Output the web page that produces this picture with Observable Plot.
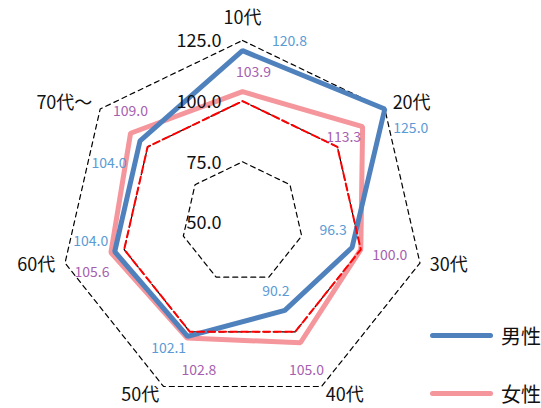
<!DOCTYPE html>
<html>
<head>
<meta charset="utf-8">
<script src="https://cdn.jsdelivr.net/npm/d3@7"></script>
<script src="https://cdn.jsdelivr.net/npm/@observablehq/plot@0.6"></script>
<style>
  html, body { margin: 0; padding: 0; background: #fff; }
  #wrap { position: relative; width: 541px; height: 408px; font-family: "Noto Sans CJK JP", "Noto Sans", sans-serif; }
  .leg { position: absolute; display: flex; align-items: center; font-size: 20px; color: #111; }
  .leg .sw { width: 63px; height: 5px; border-radius: 3px; margin-right: 8px; }
</style>
</head>
<body>
<div id="wrap"></div>
<script>
// ---- data ----
const categories = ["10代", "20代", "30代", "40代", "50代", "60代", "70代～"];
const male = [120.8, 125.0, 96.3, 90.2, 102.1, 104.0, 104.0];
const female = [103.9, 113.3, 100.0, 105.0, 102.8, 105.6, 109.0];
const seriesNames = ["男性", "女性"];
const ringValues = [50, 75, 100, 125];
const ringLabels = ["50.0", "75.0", "100.0", "125.0"];
const refValue = 100;
const rMin = 50, rMax = 125;

// ---- label offsets (px) ----
const maleOffsets = [[47, -9], [26, 20], [-19, -17], [-9, -19], [-19, 12], [-24, -10], [-31, 23]];
const femaleOffsets = [[11, -19], [-19, 11], [29, 6], [6, 28], [12, 33], [-19, 20], [0, -22]];

// ---- style ----
const W = 541, H = 408, cx = 242, cy = 222, k = 2.427;
const maleColor = "#4f81bd", femaleColor = "#f4969c";
const maleLabelColor = "#5b9bd5", femaleLabelColor = "#a65fb0";
const font = '"Noto Sans CJK JP", "Noto Sans", sans-serif';

const n = categories.length;
const ang = i => 2 * Math.PI * i / n;
const pt = (v, i, extra = 0) => {
  const r = (v - rMin) + extra;
  return { x: r * Math.sin(ang(i)), y: r * Math.cos(ang(i)) };
};
const poly = vals => vals.map((v, i) => ({ ...pt(v, i), cat: categories[i], v }));

const marks = [];
// rings
for (const rv of ringValues) {
  if (rv === rMin) continue;
  marks.push(Plot.line(poly(categories.map(() => rv)), {
    x: "x", y: "y", curve: "linear-closed",
    stroke: "#000", strokeWidth: 1.2, strokeDasharray: "5,4"
  }));
}
// series
marks.push(Plot.line(poly(female), {
  x: "x", y: "y", curve: "linear-closed", stroke: femaleColor, strokeWidth: 5, strokeLinejoin: "miter"
}));
marks.push(Plot.line(poly(male), {
  x: "x", y: "y", curve: "linear-closed", stroke: maleColor, strokeWidth: 5, strokeLinejoin: "miter"
}));
// reference ring
marks.push(Plot.line(poly(categories.map(() => refValue)), {
  x: "x", y: "y", curve: "linear-closed", stroke: "#ff0000", strokeWidth: 2, strokeDasharray: "7,4"
}));
// ring labels
marks.push(Plot.text(ringValues.map((v, i) => ({ x: 0, y: v - rMin, t: ringLabels[i] })), {
  x: "x", y: "y", text: "t", dx: -21, dy: 1, textAnchor: "end", lineAnchor: "middle",
  fontSize: 18, fill: "#111", fontFamily: font
}));
// category labels
categories.forEach((c, i) => {
  const s = Math.sin(ang(i));
  const d = Math.abs(s) < 0.1 ? 22 : 10;
  const p = pt(rMax, i, d / k);
  marks.push(Plot.text([{ ...p, t: c }], {
    x: "x", y: "y", text: "t",
    textAnchor: Math.abs(s) < 0.1 ? "middle" : (s > 0 ? "start" : "end"),
    lineAnchor: "middle", fontSize: 18, fill: "#111", fontFamily: font
  }));
});
// data labels
const addLabels = (vals, offs, color) => vals.forEach((v, i) => {
  marks.push(Plot.text([{ ...pt(v, i), t: v.toFixed(1) }], {
    x: "x", y: "y", text: "t", dx: offs[i][0], dy: offs[i][1],
    textAnchor: "middle", lineAnchor: "middle", fontSize: 14, fill: color, fontFamily: font
  }));
});
addLabels(male, maleOffsets, maleLabelColor);
addLabels(female, femaleOffsets, femaleLabelColor);

const chart = Plot.plot({
  width: W, height: H, margin: 0,
  x: { domain: [-cx / k, (W - cx) / k], axis: null },
  y: { domain: [-(H - cy) / k, cy / k], axis: null },
  style: { fontFamily: font, background: "#fff" },
  marks
});
const wrap = document.getElementById("wrap");
wrap.appendChild(chart);

// legend
const legendItems = [[seriesNames[0], maleColor, 335], [seriesNames[1], femaleColor, 393]];
for (const [name, color, yc] of legendItems) {
  const d = document.createElement("div");
  d.className = "leg";
  d.style.left = "430px";
  d.style.top = (yc - 15) + "px";
  d.style.height = "30px";
  d.innerHTML = `<span class="sw" style="background:${color}"></span><span>${name}</span>`;
  wrap.appendChild(d);
}
</script>
</body>
</html>
